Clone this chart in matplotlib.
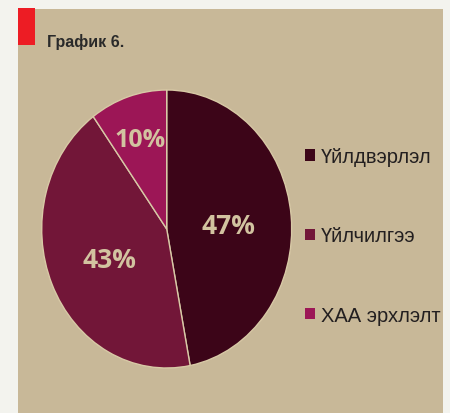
import matplotlib
matplotlib.use("Agg")
import matplotlib.pyplot as plt
from matplotlib.patches import Rectangle, Patch

# Data
labels = ["Үйлдвэрлэл", "Үйлчилгээ", "ХАА эрхлэлт"]
shares = [47, 43, 10]
colors = ["#3c0518", "#721638", "#9c1656"]
title = "График 6."

tan = "#c8b898"
sans = ["Liberation Sans", "DejaVu Sans"]

fig = plt.figure(figsize=(4.5, 4.14), dpi=100, facecolor="#f3f3ee")

# tan panel and red tab (behind the axes)
fig.patches.append(Rectangle((18 / 450, 0), 425 / 450, 404 / 414,
                             transform=fig.transFigure, facecolor=tan,
                             edgecolor="none", zorder=-2))
fig.patches.append(Rectangle((18 / 450, 1 - 46 / 414), 17 / 450, 37 / 414,
                             transform=fig.transFigure, facecolor="#ed1c24",
                             edgecolor="none", zorder=-1))
fig.text(47 / 450, 1 - 47 / 414, title, family=sans, fontweight="bold",
         fontsize=11.5, color="#2a2a2a", ha="left", va="baseline")

# Pie (slightly oval like the original)
ax = fig.add_axes([41.7 / 450, 1 - 369 / 414, 250 / 450, 278 / 414])
ax.set_facecolor("none")
wedges, texts, autotexts = ax.pie(
    shares, colors=colors, startangle=90, counterclock=False,
    autopct="%d%%", pctdistance=0.5,
    wedgeprops=dict(edgecolor="#d8c9a6", linewidth=1.0),
    textprops=dict(color="#d2c3a0", fontsize=19, fontweight="bold",
                   family=["Open Sans", "DejaVu Sans"]))
ax.set_aspect("auto")
ax.set_xlim(-1, 1)
ax.set_ylim(-1, 1)
ax.axis("off")

# small slice label sits further out
x, y = autotexts[2].get_position()
autotexts[2].set_position((x * 1.4, y * 1.4))
autotexts[2].set_fontsize(18)
for t in autotexts:
    t.set_va("center_baseline")

handles = [Patch(facecolor=w.get_facecolor(), edgecolor="none") for w in wedges]
fig.legend(handles, labels, loc="upper left",
           bbox_to_anchor=(305 / 450, 1 - 148 / 414),
           frameon=False, borderpad=0, borderaxespad=0,
           handlelength=0.5, handleheight=0.5, handletextpad=0.3,
           labelspacing=3.0,
           prop=dict(family=sans, size=14.5), labelcolor="#231f20")

fig.savefig("out.png", dpi=100, facecolor=fig.get_facecolor())
